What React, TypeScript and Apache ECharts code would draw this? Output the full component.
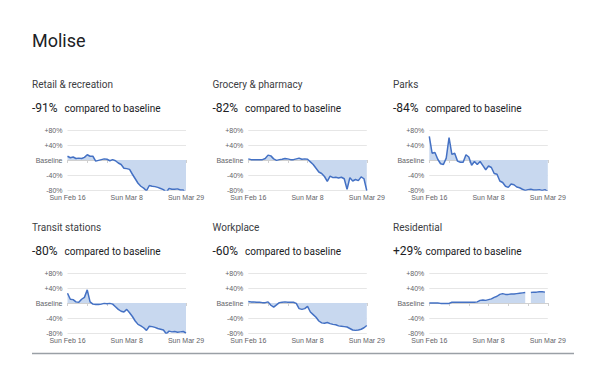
import React, { useEffect, useRef } from "react";
import * as echarts from "echarts";

const dates = [
  "Feb 16","Feb 17","Feb 18","Feb 19","Feb 20","Feb 21","Feb 22","Feb 23","Feb 24","Feb 25","Feb 26","Feb 27","Feb 28","Feb 29",
  "Mar 1","Mar 2","Mar 3","Mar 4","Mar 5","Mar 6","Mar 7","Mar 8","Mar 9","Mar 10","Mar 11","Mar 12","Mar 13","Mar 14",
  "Mar 15","Mar 16","Mar 17","Mar 18","Mar 19","Mar 20","Mar 21","Mar 22","Mar 23","Mar 24","Mar 25","Mar 26","Mar 27","Mar 28","Mar 29",
];

const region = "Molise";
const categories = ["Retail & recreation", "Grocery & pharmacy", "Parks", "Transit stations", "Workplace", "Residential"];
const headlines = ["-91%", "-82%", "-84%", "-80%", "-60%", "+29%"];
const yTicks = [-80, -40, 0, 40, 80];
const yTickLabels = ["-80%", "-40%", "Baseline", "+40%", "+80%"];

const retail = [10,6,8,4,5,4,7,14,10,10,-3,-1,1,3,2,-2,1,-2,-8,-12,-22,-23,-25,-38,-50,-62,-70,-75,-82,-68,-70,-71,-73,-76,-79,-86,-76,-78,-78,-77,-80,-80,-91];
const grocery = [3,1,1,1,1,1,4,13,11,3,-1,1,2,4,3,1,1,3,5,2,3,2,-5,-12,-22,-32,-36,-44,-57,-43,-47,-46,-48,-46,-50,-78,-47,-56,-52,-55,-45,-50,-82];
const parks = [63,18,20,2,-10,-12,5,60,15,18,-3,-6,-6,14,8,-14,-4,-12,-4,-15,-26,-16,-20,-36,-38,-56,-60,-70,-73,-64,-66,-72,-74,-78,-81,-79,-78,-80,-80,-79,-81,-79,-84];
const transit = [26,10,9,3,2,10,15,35,3,-3,-4,-4,-3,-1,-2,-1,-3,-10,-17,-22,-24,-17,-26,-36,-48,-57,-61,-66,-73,-62,-63,-65,-68,-70,-72,-82,-75,-77,-76,-78,-77,-76,-80];
const workplace = [4,3,3,2,2,1,1,3,-6,-11,-5,1,2,3,2,2,2,-1,-15,-17,-15,-9,-24,-31,-38,-48,-53,-54,-52,-55,-57,-58,-61,-62,-63,-64,-68,-72,-73,-72,-70,-66,-60];
const residential = [0,0,0,0,-1,-1,-1,-1,2,2,2,2,2,2,2,2,2,3,7,8,7,9,11,15,18,23,25,23,23,24,24,25,26,27,28,null,28,29,29,30,30,29,null];

const seriesData = [retail, grocery, parks, transit, workplace, residential];

const colLeft = [67.5, 248.3, 429.3];
const rowTop = [130, 273];
const plotW = 118.5;
const plotH = 60;
const headerFont = "Roboto, 'Noto Sans', sans-serif";
const axisFont = "'Liberation Sans', Arial, sans-serif";

export default function App() {
  const ref = useRef<HTMLDivElement>(null);
  useEffect(() => {
    document.body.style.margin = "0";
    if (!ref.current) return;
    const chart = echarts.init(ref.current, undefined, { renderer: "svg" });
    const grids: any[] = [];
    const xAxes: any[] = [];
    const yAxes: any[] = [];
    const series: any[] = [];
    const graphics: any[] = [
      {
        type: "text", left: 32, top: 31,
        style: { text: region, fontSize: 18, fontFamily: headerFont, fill: "#202124" },
      },
      {
        type: "line", shape: { x1: 32, y1: 353.5, x2: 574, y2: 353.5 },
        style: { stroke: "#9aa0a6", lineWidth: 1.5 },
      },
    ];
    for (let k = 0; k < 6; k++) {
      const r = Math.floor(k / 3);
      const c = k % 3;
      const left = colLeft[c];
      const top = rowTop[r];
      grids.push({ left, top, width: plotW, height: plotH, containLabel: false });
      const tx = [32, 212.5, 393][c];
      const ty = top - 46;
      graphics.push({
        type: "text", x: tx, y: ty,
        style: { text: categories[k], fontSize: 10, fontFamily: headerFont, fill: "#3c4043", textVerticalAlign: "middle" },
      });
      graphics.push({
        type: "text", x: tx, y: ty + 24,
        style: { text: headlines[k], fontSize: 12, fontFamily: headerFont, fill: "#202124", textVerticalAlign: "middle" },
      });
      graphics.push({
        type: "text", x: tx + 32.5, y: ty + 24,
        style: { text: "compared to baseline", fontSize: 10, fontFamily: headerFont, fill: "#202124", textVerticalAlign: "middle" },
      });
      xAxes.push({
        gridIndex: k,
        type: "category",
        data: dates,
        boundaryGap: false,
        axisLine: { show: true, lineStyle: { color: "#d0d0d0", width: 1 } },
        axisTick: { show: true, interval: 6, length: 3, lineStyle: { color: "#d0d0d0" } },
        axisLabel: {
          interval: 20, fontSize: 7, lineHeight: 7, color: "#5f6368", fontFamily: axisFont, margin: 4,
          formatter: (v: string) => "Sun " + v,
        },
        splitLine: { show: false },
      });
      yAxes.push({
        gridIndex: k,
        type: "value",
        min: -80, max: 80, interval: 40,
        axisLine: { show: false },
        axisTick: { show: false },
        axisLabel: {
          fontSize: 7, lineHeight: 7, color: "#5f6368", fontFamily: axisFont, margin: 5,
          formatter: (v: number) => yTickLabels[yTicks.indexOf(v)] ?? "",
        },
        splitLine: { show: true, lineStyle: { color: "#e6e6e6", width: 1 } },
      });
      series.push({
        type: "line",
        xAxisIndex: k, yAxisIndex: k,
        data: seriesData[k],
        showSymbol: false,
        symbol: "none",
        connectNulls: false,
        lineStyle: { color: "#4471c4", width: 1.5 },
        areaStyle: { color: "#c8d8ef", opacity: 1, origin: 0 },
        z: 3,
      });
    }
    chart.setOption({
      animation: false,
      backgroundColor: "#ffffff",
      grid: grids,
      xAxis: xAxes,
      yAxis: yAxes,
      series,
      graphic: graphics,
    });
    return () => chart.dispose();
  }, []);
  return <div ref={ref} style={{ width: 600, height: 371 }} />;
}
